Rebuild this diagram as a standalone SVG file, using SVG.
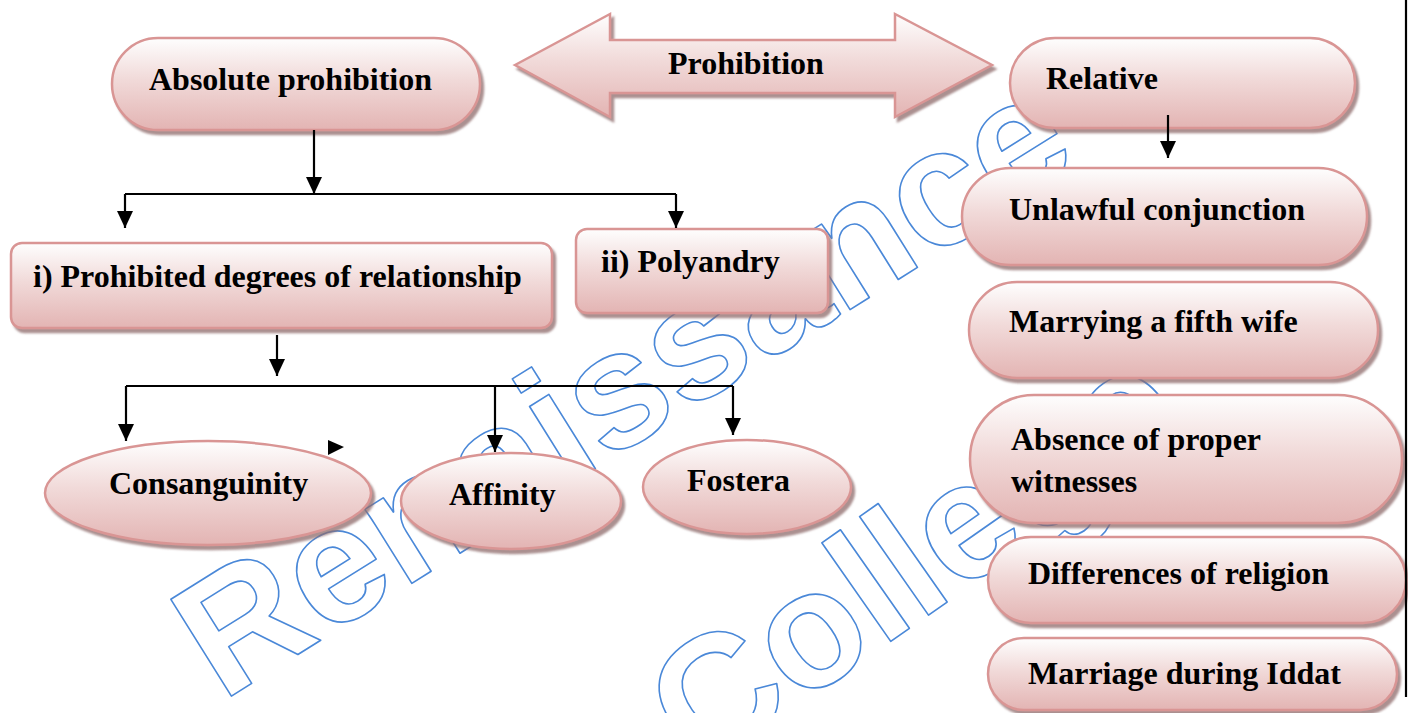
<svg xmlns="http://www.w3.org/2000/svg" width="1408" height="713" viewBox="0 0 1408 713">
  <defs>
    <linearGradient id="pink" x1="0" y1="0" x2="0" y2="1">
      <stop offset="0" stop-color="#fefefe"/>
      <stop offset="0.45" stop-color="#f1dad9"/>
      <stop offset="1" stop-color="#e3b4b3"/>
    </linearGradient>
    <filter id="shadow" x="-10%" y="-10%" width="125%" height="130%">
      <feDropShadow dx="3" dy="4" stdDeviation="1" flood-color="#8e6a6a" flood-opacity="0.75"/>
    </filter>
    <marker id="arrow" markerUnits="userSpaceOnUse" markerWidth="18" markerHeight="16" refX="17" refY="8" orient="auto">
      <path d="M0,0 L17,8 L0,16 Z" fill="#000"/>
    </marker>
    <style>
      .shape { fill: url(#pink); stroke: #d99594; stroke-width: 2.5; filter: url(#shadow); }
      .label { font-family: "Liberation Serif", "Times New Roman", serif; font-weight: bold; font-size: 32px; fill: #000; }
      .link { fill: none; stroke: #000; stroke-width: 2.2; }
      .mark { font-family: "Liberation Sans", Arial, sans-serif; font-weight: bold; font-size: 166px; fill: none; stroke: #4a88d8; stroke-width: 1.6; stroke-linejoin: round; }
    </style>
  </defs>

  <rect width="1408" height="713" fill="#fff"/>

  <!-- watermark lettering -->
  <g id="watermark">
    <text class="mark" transform="translate(222,702) rotate(-32)">Renaissance</text>
    <text class="mark" transform="translate(700,775) rotate(-35)">College</text>
  </g>

  <g id="prohibition">
    <path class="shape" d="M515,65 L610,14 L610,40 L895,40 L895,14 L992,65 L895,117 L895,93 L610,93 L610,117 Z"/>
    <text class="label" x="668" y="74">Prohibition</text>
  </g>

  <g id="absolute">
    <rect class="shape" x="112" y="38" width="368" height="92" rx="46"/>
    <text class="label" x="149" y="90">Absolute prohibition</text>
  </g>

  <g id="relative">
    <rect class="shape" x="1010" y="38" width="345" height="90" rx="45"/>
    <text class="label" x="1046" y="89">Relative</text>
  </g>

  <g id="unlawful">
    <rect class="shape" x="962" y="168" width="405" height="97" rx="48.5"/>
    <text class="label" x="1009" y="220">Unlawful conjunction</text>
  </g>

  <g id="fifth-wife">
    <rect class="shape" x="969" y="282" width="409" height="96" rx="48"/>
    <text class="label" x="1009" y="332">Marrying a fifth wife</text>
  </g>

  <g id="witnesses">
    <rect class="shape" x="970" y="395" width="432" height="128" rx="64"/>
    <text class="label" x="1011" y="450">Absence of proper</text>
    <text class="label" x="1011" y="492">witnesses</text>
  </g>

  <g id="religion">
    <rect class="shape" x="988" y="537" width="418" height="86" rx="43"/>
    <text class="label" x="1028" y="584">Differences of religion</text>
  </g>

  <g id="iddat">
    <rect class="shape" x="988" y="638" width="409" height="72" rx="36"/>
    <text class="label" x="1028" y="684">Marriage during Iddat</text>
  </g>

  <g id="degrees">
    <rect class="shape" x="11" y="243" width="541" height="85" rx="11"/>
    <text class="label" x="33" y="287">i) Prohibited degrees of relationship</text>
  </g>

  <g id="polyandry">
    <rect class="shape" x="576" y="229" width="252" height="84" rx="11"/>
    <text class="label" x="601" y="272">ii) Polyandry</text>
  </g>

  <g id="consanguinity">
    <ellipse class="shape" cx="208" cy="493" rx="163" ry="52"/>
    <text class="label" x="109" y="494">Consanguinity</text>
  </g>

  <g id="affinity">
    <ellipse class="shape" cx="511" cy="501" rx="110" ry="48"/>
    <text class="label" x="449" y="505">Affinity</text>
  </g>

  <g id="fostera">
    <ellipse class="shape" cx="747" cy="487" rx="104" ry="47"/>
    <text class="label" x="687" y="491">Fostera</text>
  </g>

  <g id="connectors">
    <path class="link" d="M314,130 V194" marker-end="url(#arrow)"/>
    <path class="link" d="M125,194 H676"/>
    <path class="link" d="M125,194 V228" marker-end="url(#arrow)"/>
    <path class="link" d="M676,194 V228" marker-end="url(#arrow)"/>
    <path class="link" d="M277,335 V376" marker-end="url(#arrow)"/>
    <path class="link" d="M126,386 H733"/>
    <path class="link" d="M126,386 V441" marker-end="url(#arrow)"/>
    <path class="link" d="M495,386 V452" marker-end="url(#arrow)"/>
    <path class="link" d="M733,386 V435" marker-end="url(#arrow)"/>
    <path class="link" d="M1168,115 V158" marker-end="url(#arrow)"/>
    <path d="M328,440 L344,447 L328,455 Z" fill="#000"/>
    <path class="link" d="M1406,0 V697" stroke-width="2"/>
  </g>
</svg>
